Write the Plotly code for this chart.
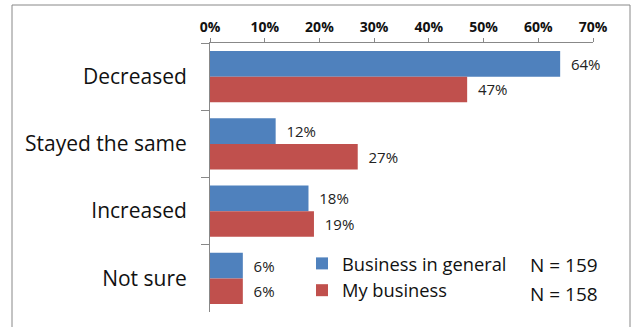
import plotly.graph_objects as go

categories = ["Decreased", "Stayed the same", "Increased", "Not sure"]
general_pct = [64, 12, 18, 6]
mine_pct = [47, 27, 19, 6]
series_names = ["Business in general", "My business"]
sample_sizes = ["N = 159", "N = 158"]
tick_vals = [0, 10, 20, 30, 40, 50, 60, 70]
tick_text = [f"{v}%" for v in tick_vals]

BLUE = "#4F81BD"
RED = "#C0504D"
FONT = "Open Sans, Liberation Sans, Arial, sans-serif"

fig = go.Figure()
for i, (name, vals, color) in enumerate([(series_names[0], general_pct, BLUE),
                                         (series_names[1], mine_pct, RED)]):
    fig.add_trace(go.Bar(
        y=categories, x=vals, name=name, orientation="h",
        legendgroup=f"g{i}",
        marker=dict(color=color, line=dict(width=0)),
        text=[f"\u00a0\u00a0{v}%" for v in vals], textposition="outside",
        constraintext="none",
        textfont=dict(size=15, color="#222222", family=FONT),
        cliponaxis=False,
    ))

fig.update_layout(
    width=635, height=327,
    margin=dict(l=210, r=42, t=43, b=15),
    paper_bgcolor="white", plot_bgcolor="white",
    barmode="group", bargap=0.24, bargroupgap=0,
    font=dict(family=FONT, color="#111111"),
    showlegend=True,
    legend=dict(x=(302 - 210) / 383, y=(312 - 245) / 269, xanchor="left", yanchor="top",
                font=dict(size=18.3, family=FONT, color="#111111"),
                bgcolor="rgba(0,0,0,0)", tracegroupgap=6, itemwidth=30,
                traceorder="normal"),
    xaxis=dict(side="top", range=[0, 70], tickvals=tick_vals, ticktext=tick_text,
               showgrid=False, zeroline=False, showline=True, linecolor="#888888",
               ticks="outside", ticklen=4, tickcolor="#888888",
               tickfont=dict(size=14, family=FONT, color="#111111", weight="bold")),
    yaxis=dict(autorange="reversed", showgrid=False, showline=True, linecolor="#888888",
               ticks="outside", ticklen=8, tickcolor="#888888", tickson="boundaries",
               ticklabelstandoff=18,
               tickfont=dict(size=21, family=FONT, color="#111111")),
)

for i, t in enumerate(sample_sizes):
    fig.add_annotation(text=t, xref="paper", yref="paper", x=(528 - 210) / 383,
                       y=(312 - 265 - 29 * i) / 269, xanchor="left", yanchor="middle",
                       showarrow=False, font=dict(size=19, family=FONT, color="#111111"))

# outer frame around the chart area
fig.add_shape(type="rect", xref="paper", yref="paper",
              x0=(12 - 210) / 383, x1=(630 - 210) / 383,
              y0=(312 - 340) / 269, y1=(312 - 5) / 269,
              line=dict(color="#888888", width=1), layer="below")

fig.write_html("out.html")
